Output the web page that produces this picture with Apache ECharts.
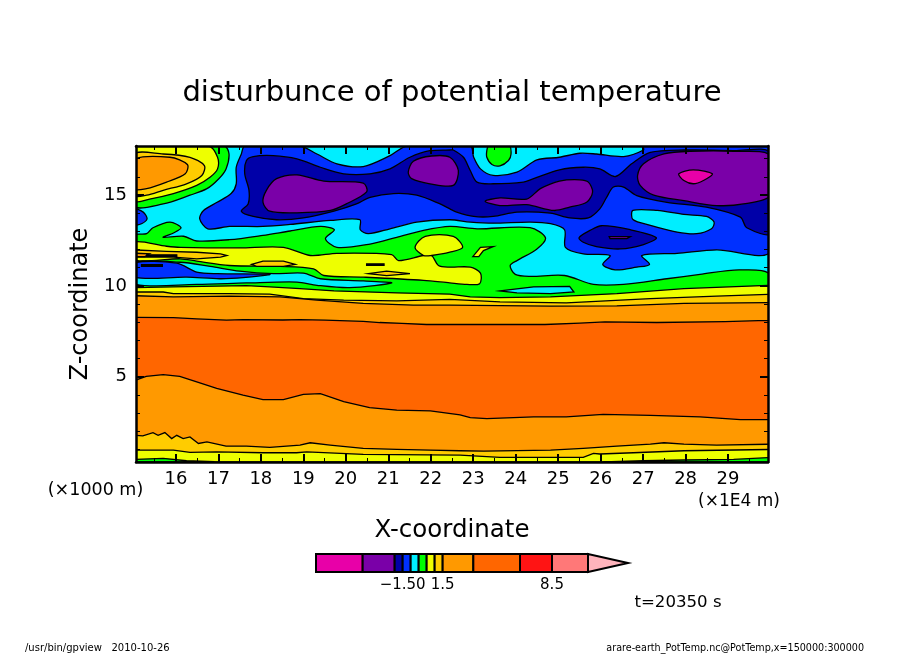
<!DOCTYPE html>
<html><head><meta charset="utf-8">
<style>html,body{margin:0;padding:0;background:#fff}#c{width:904px;height:654px}</style>
<script src="https://cdn.jsdelivr.net/npm/echarts@6/dist/echarts.min.js"></script>
</head><body><div id="c"></div>
<script>
const xTicks=[16,17,18,19,20,21,22,23,24,25,26,27,28,29];
const xHalf=[15.5,16.5,17.5,18.5,19.5,20.5,21.5,22.5,23.5,24.5,25.5,26.5,27.5,28.5,29.5];
const zMajor=[5,10,15];
const zMinor=[1,2,3,4,6,7,8,9,11,12,13,14,16,17];
const cyanBase=[[15,0.3],[30,0.3],[30,17.7],[15,17.7]];
const blueMain=[[17.62,17.7],[17.54,17.26],[17.42,16.53],[17.42,15.62],[17.30,15.08],[16.97,14.60],[16.65,14.15],[16.56,13.69],[16.75,13.14],[17.26,13.27],[18.05,13.27],[18.69,13.38],[19.64,13.60],[20.33,13.64],[20.34,13.09],[20.53,12.87],[21.04,13.14],[21.67,13.51],[22.45,13.64],[22.93,13.51],[23.47,13.45],[24.34,13.51],[24.82,13.42],[25.15,13.09],[25.17,12.12],[25.59,11.76],[26.22,11.67],[26.05,11.18],[26.34,10.88],[26.85,11.03],[27.15,11.18],[26.97,11.67],[27.80,11.79],[28.73,11.98],[30,11.90],[30,17.7],[27.01,17.7],[27.01,17.48],[26.54,17.12],[25.90,17.26],[25.51,17.30],[25.03,17.08],[24.50,16.93],[24.03,16.26],[23.47,16.08],[23.17,16.44],[23.01,17.08],[22.93,17.7],[21.44,17.7],[21.04,17.17],[20.41,16.57],[19.79,16.72],[19.32,17.26],[18.92,17.7]];
const blueLeft=[[15,14.24],[15.23,14.06],[15.32,13.69],[15.19,13.42],[15,13.38]];
const cyanBlob=[[26.76,14.15],[27.33,14.15],[27.96,13.93],[28.49,13.82],[28.67,13.51],[28.61,13.14],[28.26,12.87],[27.80,12.96],[27.17,13.33],[26.76,13.65]];
const greenCircle=[[23.32,17.44],[23.32,17.08],[23.44,16.68],[23.63,16.61],[23.83,16.90],[23.89,17.26],[23.85,17.7],[23.36,17.7]];
const navyMain=[[17.66,16.90],[17.62,16.17],[17.72,15.26],[17.70,14.51],[17.54,14.11],[17.82,13.82],[18.37,13.64],[19.00,13.74],[19.72,14.11],[20.25,14.51],[20.57,14.87],[21.12,15.08],[21.67,14.99],[22.22,14.51],[22.45,14.24],[22.61,14.06],[23.01,13.82],[23.47,13.82],[24.03,14.06],[24.82,14.00],[25.27,13.74],[25.71,13.74],[25.98,14.24],[26.14,14.87],[26.30,15.44],[26.54,15.44],[26.85,14.97],[27.56,14.60],[28.49,14.33],[29.29,13.78],[29.44,13.20],[30,12.91],[30,17.30],[29.13,17.44],[27.96,17.48],[27.17,17.35],[26.73,16.72],[26.35,16.02],[25.98,16.44],[25.59,16.53],[25.03,16.39],[24.42,15.90],[24.18,15.71],[23.47,15.62],[23.09,15.71],[22.93,16.35],[22.77,17.08],[22.53,17.48],[22.45,17.48],[21.98,17.44],[21.51,17.08],[21.04,16.44],[20.57,16.17],[19.95,16.17],[19.40,16.53],[18.85,16.99],[18.29,17.17],[17.82,17.12]];
const navySmall=[[25.49,12.65],[25.75,13.05],[26.02,13.31],[26.70,13.09],[27.31,12.65],[27.01,12.27],[26.46,12.03],[25.90,12.16],[25.59,12.40]];
const purpleTiny=[[26.20,12.71],[26.70,12.71],[26.62,12.60],[26.22,12.60]];
const purpleA=[[18.05,14.60],[18.13,15.26],[18.37,15.90],[18.85,16.11],[19.48,15.77],[20.41,15.66],[20.49,15.17],[20.01,14.51],[19.64,14.15],[18.85,14.02],[18.21,14.11]];
const purpleB=[[21.47,16.26],[21.59,16.86],[22.02,17.15],[22.45,17.08],[22.65,16.35],[22.53,15.53],[21.98,15.62],[21.55,15.90]];
const purpleC=[[23.28,14.66],[23.63,14.84],[24.26,14.78],[24.58,15.35],[25.03,15.77],[25.51,15.84],[25.71,15.71],[25.81,15.17],[25.67,14.60],[25.27,14.33],[24.90,14.15],[24.26,14.47],[23.63,14.42]];
const purpleD=[[26.87,16.08],[27.01,16.72],[27.49,17.26],[28.10,17.41],[29.13,17.41],[30,17.17],[30,14.99],[29.36,14.51],[28.73,14.42],[27.96,14.69],[27.25,14.99],[26.93,15.53]];
const magentaCore=[[27.84,16.17],[28.18,16.39],[28.63,16.17],[28.42,15.80],[28.18,15.62],[27.96,15.80]];
const tlGreen=[[15,17.7],[17.14,17.7],[17.25,17.26],[17.18,16.44],[17.01,15.90],[16.73,15.35],[16.33,14.99],[15.70,14.51],[15,14.42]];
const tlYellow=[[15,17.7],[16.77,17.7],[16.98,17.08],[16.98,16.44],[16.81,15.99],[16.49,15.53],[15.94,15.08],[15.38,14.78],[15,14.69]];
const tlGold=[[15,17.23],[15.70,17.26],[16.33,17.08],[16.67,16.62],[16.61,16.08],[16.25,15.62],[15.70,15.26],[15.31,14.99],[15,14.99]];
const tlOrange=[[15,16.93],[15.86,17.08],[16.27,16.68],[16.22,16.17],[15.78,15.71],[15.31,15.35],[15,15.35]];
const midGreen=[[15,12.73],[15.31,12.87],[15.46,13.20],[15.86,13.51],[16.12,13.20],[15.94,12.91],[15.70,12.67],[16.18,12.73],[16.49,12.47],[17.26,12.54],[18.05,12.78],[18.69,13.02],[19.40,13.27],[19.73,13.09],[19.52,12.60],[19.79,12.12],[20.57,12.30],[21.20,12.67],[21.83,13.05],[22.45,13.27],[23.09,13.14],[24.34,13.20],[24.70,12.65],[24.50,12.03],[24.03,11.39],[23.87,11.12],[23.99,10.63],[24.34,10.52],[25.15,10.57],[25.83,10.08],[26.54,10.08],[27.56,10.39],[28.34,10.63],[29.29,10.88],[30,10.52],[30,0.3],[15,0.3]];
const midYellow=[[15,12.40],[15.78,12.18],[16.10,12.12],[17.50,12.09],[18.53,12.12],[19.16,11.67],[19.79,11.79],[21.08,11.72],[21.24,11.39],[21.83,11.67],[22.02,11.67],[22.18,11.12],[22.45,11.03],[22.93,11.03],[23.17,10.70],[23.15,10.12],[22.85,10.08],[22.45,10.16],[21.83,10.30],[20.41,10.48],[19.48,10.57],[19.24,10.94],[18.45,11.07],[17.26,11.12],[16.49,11.36],[16.10,11.49],[15,11.43]];
const yellowUpper=[[21.63,12.12],[21.87,12.73],[22.53,12.73],[22.75,12.12],[22.45,11.85],[22.02,11.67],[21.83,11.67]];
const yellowSmall=[[22.99,11.61],[23.17,12.12],[23.47,12.16],[23.24,11.94],[23.13,11.61]];
const lowCyan=[[15,11.25],[16.10,11.30],[16.81,11.07],[17.50,10.81],[18.29,10.67],[19.00,10.70],[19.40,10.39],[20.41,10.27],[21.08,10.16],[20.09,9.90],[19.32,10.03],[18.85,10.21],[17.66,10.16],[16.49,10.08],[15,10.12]];
const lowBlue=[[15,11.25],[16.02,11.25],[16.49,10.76],[16.97,10.67],[18.21,10.63],[17.58,10.45],[17.03,10.39],[16.25,10.48],[15,10.48]];
const cyanLens=[[23.63,9.72],[24.42,9.94],[25.27,9.97],[25.37,9.66],[24.82,9.57],[24.03,9.61]];
const goldLeft=[[15,11.98],[15.78,11.90],[16.49,11.85],[17.05,11.76],[17.20,11.67],[17.05,11.58],[16.49,11.49],[15.94,11.58],[15.31,11.58],[15,11.58]];
const orangeLeft=[[15,11.80],[15.38,11.76],[15.27,11.61],[15,11.61]];
const goldMid=[[17.78,11.18],[18.05,11.36],[18.53,11.36],[18.81,11.18],[18.53,11.07],[17.90,11.07]];
const goldSmall=[[20.53,10.67],[20.96,10.81],[21.51,10.67],[20.96,10.56]];
const stackYellow=[[15,9.90],[15.94,9.94],[17.66,10.01],[18.21,9.94],[18.92,9.85],[19.72,9.72],[21.20,9.61],[22.45,9.54],[22.93,9.39],[23.63,9.35],[24.82,9.39],[26.38,9.57],[27.96,9.85],[30,10.03],[30,0.3],[15,0.3]];
const stackGold=[[15,9.66],[15.70,9.66],[15.94,9.57],[17.26,9.57],[18.21,9.54],[19.00,9.30],[19.95,9.21],[21.20,9.17],[22.45,9.25],[23.63,9.12],[25.19,9.06],[27.17,9.30],[28.73,9.43],[30,9.54],[30,0.3],[15,0.3]];
const stackOrange=[[15,9.46],[15.94,9.39],[17.26,9.43],[18.45,9.39],[19.32,9.21],[20.41,9.03],[21.59,8.94],[22.45,8.94],[24.82,8.88],[26.38,8.90],[27.96,9.03],[30,9.08],[30,0.3],[15,0.3]];
const stackDark=[[15,8.26],[15.94,8.25],[16.49,8.18],[17.19,8.11],[17.58,8.14],[18.52,8.12],[18.92,8.14],[19.51,8.11],[20.41,8.04],[20.80,7.98],[21.32,7.93],[21.90,7.87],[24.69,7.87],[25.51,7.95],[26.10,8.02],[27.32,7.98],[28.93,8.03],[29.71,8.08],[30,8.09],[30,0.3],[15,0.3]];
const lowOrange=[[15,4.76],[15.30,5.02],[15.70,5.11],[16.09,5.02],[16.49,4.71],[16.96,4.35],[17.58,3.98],[18.05,3.74],[18.53,3.74],[19.00,4.02],[19.40,4.07],[19.95,3.62],[20.56,3.29],[21.20,3.16],[21.99,3.11],[22.69,2.90],[22.93,2.74],[23.32,2.69],[24.42,2.78],[25.19,2.78],[26.06,2.92],[27.17,2.87],[28.34,2.78],[29.29,2.63],[30,2.63],[30,0.3],[15,0.3]];
const lowGold=[[15,1.77],[15.22,1.74],[15.46,1.92],[15.58,1.77],[15.74,1.92],[15.90,1.59],[16.02,1.77],[16.17,1.59],[16.33,1.68],[16.53,1.32],[16.73,1.41],[17.18,1.17],[17.66,1.17],[18.21,1.10],[18.92,1.23],[19.16,1.36],[19.63,1.23],[20.41,1.05],[21.20,0.99],[21.99,0.95],[22.69,0.92],[23.25,0.90],[24.82,0.95],[25.59,1.05],[26.38,1.17],[27.17,1.28],[27.49,1.36],[27.96,1.28],[28.73,1.23],[30,1.28],[30,0.3],[15,0.3]];
const lowYellow=[[15,0.95],[15.94,0.95],[16.33,0.83],[16.96,0.86],[18.05,0.81],[18.84,0.81],[19.08,0.86],[20.41,0.72],[22.69,0.68],[23.63,0.55],[25.59,0.55],[25.83,0.77],[25.98,0.74],[26.77,0.81],[27.96,0.92],[30,0.99],[30,0.3],[15,0.3]];
const lowGreenL=[[15,0.44],[15.70,0.50],[16.25,0.37],[16.89,0.32],[16.89,0.3],[15,0.3]];
const lowGreenR=[[26.06,0.3],[27.01,0.37],[27.96,0.41],[29.13,0.44],[30,0.55],[30,0.3]];
const dashA=[[15.31,11.71],[16.02,11.71],[16.02,11.63],[15.31,11.63]];
const dashB=[[15.19,11.16],[15.68,11.16],[15.68,11.08],[15.19,11.08]];
const dashD=[[20.49,11.21],[20.90,11.21],[20.90,11.13],[20.49,11.13]];

const C={magenta:'#e800a8',purple:'#7a00a8',navy:'#0000a8',blue:'#0030ff',cyan:'#00eeff',green:'#00ff00',yellow:'#eeff00',gold:'#ffcc00',orange:'#ff9900',dark:'#ff6600',red:'#ff1414',salmon:'#ff7878',pink:'#ffb4bc',black:'#000000'};
const layers=[
 [cyanBase,C.cyan,0],[blueMain,C.blue,1],[blueLeft,C.blue,1],[cyanBlob,C.cyan,1],[greenCircle,C.green,1],
 [navyMain,C.navy,1],[navySmall,C.navy,1],[purpleTiny,C.purple,0],[purpleA,C.purple,1],[purpleB,C.purple,1],[purpleC,C.purple,1],[purpleD,C.purple,1],[magentaCore,C.magenta,1],
 [tlGreen,C.green,1],[tlYellow,C.yellow,1],[tlGold,C.gold,1],[tlOrange,C.orange,1],
 [midGreen,C.green,1],[midYellow,C.yellow,1],[yellowUpper,C.yellow,1],[yellowSmall,C.yellow,0],[lowCyan,C.cyan,1],[lowBlue,C.blue,1],[cyanLens,C.cyan,0],
 [goldLeft,C.gold,0],[orangeLeft,C.orange,0],[goldMid,C.gold,0],[goldSmall,C.gold,0],
 [stackYellow,C.yellow,0],[stackGold,C.gold,0],[stackOrange,C.orange,0],[stackDark,C.dark,0],[lowOrange,C.orange,0],[lowGold,C.gold,0],[lowYellow,C.yellow,0],[lowGreenL,C.green,0],[lowGreenR,C.green,0],
 [dashA,C.black,0],[dashB,C.black,0],[dashD,C.black,0]
];

const legendEdges=[-8,-4.5,-2.1,-1.5,-0.9,-0.3,0.3,0.9,1.5,3.8,7.3,9.7,12.4];
const legendTip=15.4;
const legendColors=[C.magenta,C.purple,C.navy,C.blue,C.cyan,C.green,C.yellow,C.gold,C.orange,C.dark,C.red,C.salmon];
const legendTicks=[-1.5,1.5,9.7];
const legendTickLabels=['\u22121.50','1.5','8.5'];

const font='"DejaVu Sans"';
const chart=echarts.init(document.getElementById('c'),null,{renderer:'canvas'});
const axisLine={show:true,onZero:false,lineStyle:{color:'#000',width:2.5}};
const noLine={show:false};
const major={show:true,inside:true,length:8,lineStyle:{color:'#000',width:2}};
const minor={show:true,inside:true,length:4,lineStyle:{color:'#000',width:1}};
const xA=(position,line,vals,tick,label,extra)=>Object.assign({gridIndex:0,z:10,type:'value',min:15.06,max:29.94,position,axisLine:line,splitLine:{show:false},axisTick:Object.assign({},tick,{customValues:vals}),axisLabel:label||{show:false}},extra||{});
const zA=(position,line,vals,tick,label,extra)=>Object.assign({gridIndex:0,z:10,type:'value',min:0.3,max:17.7,position,axisLine:line,splitLine:{show:false},axisTick:Object.assign({},tick,{customValues:vals}),axisLabel:label||{show:false}},extra||{});
const txt=(x,y,t,size,align)=>({type:'text',x,y,silent:true,style:{text:t,fill:'#000',font:size+'px '+font,align:align||'center',verticalAlign:'middle'}});
chart.setOption({
 animation:false,backgroundColor:'#fff',
 title:{text:'disturbunce of potential temperature',left:447,top:74,textAlign:'center',textStyle:{fontFamily:font,fontSize:29,fontWeight:'normal',color:'#000'}},
 grid:[{left:136,top:146,width:632,height:316},{left:316,top:554,width:312,height:18}],
 xAxis:[
  xA('bottom',axisLine,xTicks,major,{show:true,customValues:xTicks,margin:8,color:'#000',fontFamily:font,fontSize:18,formatter:v=>String(v)},
    {name:'X-coordinate',nameLocation:'middle',nameGap:56,nameTextStyle:{fontFamily:font,fontSize:24.5,color:'#000'}}),
  xA('top',axisLine,xTicks,major),
  xA('bottom',noLine,xHalf,minor),
  xA('top',noLine,xHalf,minor),
  {gridIndex:1,type:'value',min:legendEdges[0],max:legendTip,position:'bottom',axisLine:{show:false},axisTick:{show:false},splitLine:{show:false},
   axisLabel:{show:true,customValues:legendTicks,margin:6,hideOverlap:false,color:'#000',fontFamily:font,fontSize:15,formatter:v=>legendTickLabels[legendTicks.indexOf(v)]||''}}
 ],
 yAxis:[
  zA('left',axisLine,zMajor,major,{show:true,customValues:zMajor,margin:9,color:'#000',fontFamily:font,fontSize:18},
    {name:'Z-coordinate',nameLocation:'middle',nameGap:38,nameTextStyle:{fontFamily:font,fontSize:24,color:'#000'}}),
  zA('right',axisLine,zMajor,major),
  zA('left',noLine,zMinor,minor),
  zA('right',noLine,zMinor,minor),
  {gridIndex:1,type:'value',min:0,max:1,show:false}
 ],
 graphic:[
  txt(95.5,490,'(\u00d71000 m)',17.5),txt(739,502,'(\u00d71E4 m)',17),
  txt(678,603,'t=20350 s',16.6),
  txt(25,648,'/usr/bin/gpview   2010-10-26',10,'left'),
  txt(864,648,'arare-earth_PotTemp.nc@PotTemp,x=150000:300000',9.6,'right')
 ],
 series:[
  {type:'custom',xAxisIndex:0,yAxisIndex:0,coordinateSystem:'cartesian2d',clip:true,silent:true,
   data:layers.map((l,i)=>[l[0][0][0],l[0][0][1],i]),encode:{x:0,y:1},
   renderItem:(p,api)=>{const l=layers[api.value(2)];
     return {type:'polygon',shape:{points:l[0].map(q=>api.coord(q)),smooth:l[2]?0.3:0},style:{fill:l[1],stroke:'#000',lineWidth:1.3}};}},
  {type:'custom',xAxisIndex:4,yAxisIndex:4,coordinateSystem:'cartesian2d',silent:true,
   data:legendColors.map((c,i)=>[legendEdges[i],legendEdges[i+1]??legendTip,i]),encode:{x:[0,1]},
   renderItem:(p,api)=>{const a=api.coord([api.value(0),0]),b=api.coord([api.value(1),1]);
     return {type:'rect',shape:{x:a[0],y:b[1],width:b[0]-a[0],height:a[1]-b[1]},style:{fill:legendColors[api.value(2)],stroke:'#000',lineWidth:2}};}},
  {type:'custom',xAxisIndex:4,yAxisIndex:4,coordinateSystem:'cartesian2d',silent:true,
   data:[[legendEdges[legendEdges.length-1],legendTip]],encode:{x:[0,1]},
   renderItem:(p,api)=>({type:'polygon',shape:{points:[api.coord([api.value(0),0]),api.coord([api.value(1),0.5]),api.coord([api.value(0),1])]},style:{fill:C.pink,stroke:'#000',lineWidth:2}})}
 ]
});
</script></body></html>
